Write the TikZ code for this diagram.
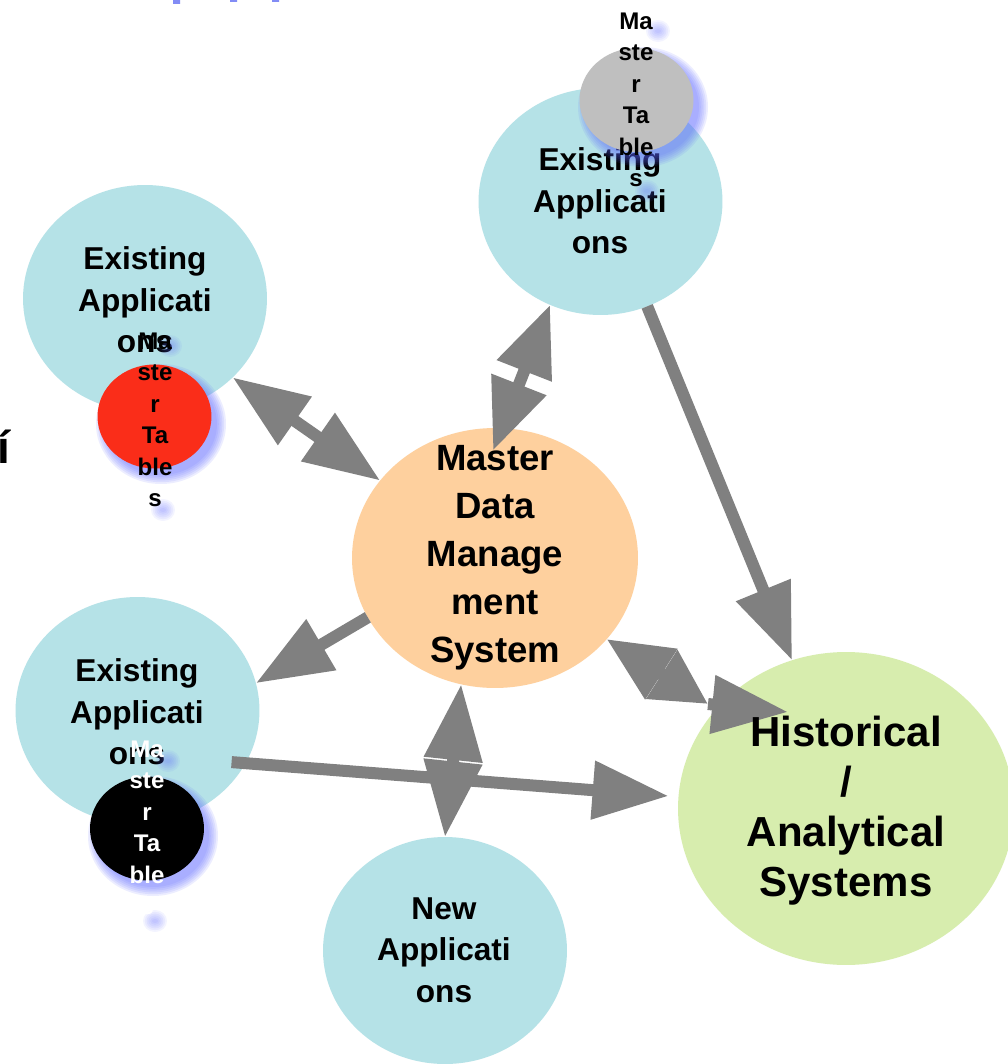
\documentclass[tikz,border=0pt]{standalone}
\usepackage{fontspec}
\setmainfont{Liberation Sans}
\usetikzlibrary{shapes.geometric,arrows.meta,calc}
\definecolor{appblue}{RGB}{181,226,231}
\definecolor{mdmorange}{RGB}{254,208,158}
\definecolor{histgreen}{RGB}{215,237,174}
\definecolor{mtred}{RGB}{250,45,25}
\definecolor{mtgray}{RGB}{191,191,191}
\definecolor{arrowgray}{RGB}{128,128,128}
\definecolor{glowblue}{RGB}{90,100,255}
\definecolor{titleblue}{RGB}{130,140,245}
\newcommand\mtglow[4]{%
  \foreach \k in {0,...,5}{%
    \fill[glowblue, opacity=#4] (#1) ellipse [x radius={(#2+9-1.8*\k)*0.02cm}, y radius={(#3+9-1.8*\k)*0.02cm}];}}
\begin{document}
\begin{tikzpicture}[x=0.02cm,y=-0.02cm,
  bubble/.style={ellipse, inner sep=0pt, outer sep=0pt, draw=none},
  appbubble/.style={bubble, fill=appblue, minimum width=4.88cm, minimum height=4.54cm},
  mtbubble/.style={bubble, minimum width=2.28cm, minimum height=2.08cm},
  apptext/.style={align=center, inner sep=0pt, font=\fontsize{18pt}{23.6pt}\selectfont\bfseries},
  mdmtext/.style={align=center, inner sep=0pt, font=\fontsize{20.8pt}{27.3pt}\selectfont\bfseries},
  histtext/.style={align=center, inner sep=0pt, font=\fontsize{23.9pt}{28.5pt}\selectfont\bfseries},
  mttext/.style={align=center, inner sep=0pt, font=\fontsize{13.7pt}{17.9pt}\selectfont\bfseries},
  conn/.style={draw=arrowgray, line width=0.24cm},
  headone/.style={-{Triangle[length=1.52cm,width=1.12cm]}},
  headtwo/.style={{Triangle[length=1.52cm,width=1.12cm]}-{Triangle[length=1.52cm,width=1.12cm]}},
  headshort/.style={{Triangle[length=1.42cm,width=1.12cm]}-{Triangle[length=1.42cm,width=1.12cm]}},
]
\useasboundingbox (0,0) rectangle (1007,1064);
\fill[white] (0,0) rectangle (1007,1064);

% fragments of a cut-off title
\fill[titleblue] (173,0) rectangle (180,4) (230,0) rectangle (237,2) (272,0) rectangle (279,2);
\node[anchor=base east, inner sep=0pt, font=\fontsize{26pt}{30pt}\selectfont\bfseries] (cut) at (11,463) {í};

% main bubbles
\node[appbubble] (ea1) at (145,298.5) {};
\node[appbubble] (ea2) at (600.5,201.5) {};
\node[appbubble] (ea3) at (137.5,710.5) {};
\node[appbubble] (new) at (445,950.5) {};
\node[bubble, fill=mdmorange, minimum width=5.72cm, minimum height=5.2cm] (mdm) at (495,558) {};
\node[bubble, fill=histgreen, minimum width=6.72cm, minimum height=6.26cm] (hist) at (846,808.5) {};

% connectors
\coordinate (kite) at (708,704);
\coordinate (histin) at ($(hist.center)+(-58,-96.5)$);
\draw[conn, headtwo] (ea1.-42) -- (mdm.146.5);
\draw[conn, headshort, shorten <=-0.48cm] (mdm.87) -- (ea2.-116);
\draw[conn, headone] (ea2.-66) -- (hist.110);
\draw[conn, headone] (mdm.-155) -- (ea3.13);
\draw[conn, headtwo] (mdm.-105.6) -- (new.90);
\draw[conn, headone, shorten <=-0.28cm, shorten >=0.2cm] (ea3.-26) -- (hist.176);
\draw[conn, {Triangle[length=1.3cm,width=1.14cm]}-{Triangle[length=1.1cm,width=1.1cm]}] (mdm.-36) -- (kite);
\draw[conn, headone] (kite) -- (histin);

% texts of the main bubbles
\node[apptext] (ea1t) at (145,300) {Existing\\Applicati\\ons};
\node[apptext] (ea2t) at (600,201) {Existing\\Applicati\\ons};
\node[apptext] (ea3t) at (137,712) {Existing\\Applicati\\ons};
\node[apptext] (newt) at (444,950) {New\\Applicati\\ons};
\node[mdmtext] (mdmt) at (495,558) {Master\\Data\\Manage\\ment\\System};
\node[histtext] (histt) at (846,811) {Historical\\/\\Analytical\\Systems};

% master tables
\mtglow{161,424}{56}{51}{0.11}
\mtglow{643,107}{56}{51}{0.11}
\mtglow{153,836}{56}{51}{0.11}
\node[mtbubble, fill=mtred] (mtr) at (154.5,416.5) {};
\node[mtbubble, fill=mtgray] (mtg) at (636.5,100) {};
\node[mtbubble, fill=black] (mtb) at (147,828.5) {};
\mtglow{170,346}{3}{2}{0.07}
\mtglow{163,510}{3}{2}{0.07}
\mtglow{658,31}{3}{2}{0.07}
\mtglow{647,191}{3}{2}{0.07}
\mtglow{168,761}{3}{2}{0.07}
\mtglow{155,921}{3}{2}{0.07}
\node[mttext] (mtrt) at (155,420) {Ma\\ste\\r\\Ta\\ble\\s};
\node[mttext] (mtgt) at (636,100) {Ma\\ste\\r\\Ta\\ble\\s};
\node[mttext, text=white] (mtbt) at (147,828) {Ma\\ste\\r\\Ta\\ble\\s};
\end{tikzpicture}
\end{document}
